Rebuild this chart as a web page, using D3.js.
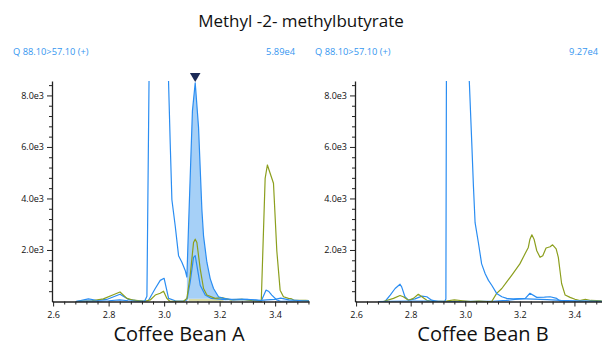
<!DOCTYPE html>
<html>
<head>
<meta charset="utf-8">
<script src="https://cdn.jsdelivr.net/npm/d3@7"></script>
<style>
  body { margin: 0; background: #fff; }
  svg { display: block; font-family: "Open Sans", sans-serif; }
</style>
</head>
<body>
<svg id="chart" width="602" height="347"></svg>
<script>
const title = 'Methyl -2- methylbutyrate';
const transition = 'Q 88.10>57.10 (+)';
const samples = ['Coffee Bean A', 'Coffee Bean B'];
const maxLabels = ['5.89e4', '9.27e4'];
const xTicks = [2.6, 2.8, 3.0, 3.2, 3.4];
const yTicks = [2000, 4000, 6000, 8000];

// [retention time (min), intensity]
const beanA_quant = [[2.683,10],[2.72,20],[2.76,15],[2.80,30],[2.84,60],[2.87,30],[2.90,10],[2.93,15],[2.938,200],
  [2.946,9000],[2.96,30000],[2.975,58900],[2.995,40000],[3.010,15000],[3.016,8500],[3.022,6120],[3.028,3950],
  [3.040,2930],[3.052,1780],[3.064,1525],[3.076,1207],[3.082,950],[3.088,2930],[3.094,4850],[3.102,7400],
  [3.112,8490],[3.124,6760],[3.136,3570],[3.142,2550],[3.154,1525],[3.166,890],[3.178,505],[3.196,185],
  [3.214,120],[3.25,60],[3.30,80],[3.35,40],[3.37,60],[3.40,80],[3.42,130],[3.45,60],[3.50,30],[3.523,20]];
const beanA_qual1 = [[2.683,0],[2.727,100],[2.76,40],[2.793,80],[2.841,280],[2.872,80],[2.91,20],[2.943,30],
  [2.968,505],[2.986,820],[3.0,900],[3.004,700],[3.016,120],[3.04,30],[3.07,20],[3.082,60],[3.094,760],
  [3.106,1715],[3.112,1780],[3.118,1400],[3.130,630],[3.148,250],[3.17,120],[3.22,70],[3.28,90],[3.33,50],
  [3.35,20],[3.367,440],[3.376,400],[3.388,250],[3.406,60],[3.42,10],[3.47,20],[3.523,30]];
const beanA_qual2 = [[2.683,0],[2.74,30],[2.781,100],[2.817,260],[2.841,370],[2.866,120],[2.89,50],[2.93,10],
  [2.95,60],[2.968,250],[2.986,320],[2.998,400],[3.010,120],[3.02,10],[3.07,10],[3.082,120],[3.094,1015],
  [3.106,2290],[3.112,2420],[3.118,2290],[3.130,1270],[3.142,505],[3.154,250],[3.184,120],[3.208,150],
  [3.24,60],[3.28,80],[3.32,30],[3.35,10],[3.364,4780],[3.372,5300],[3.394,4590],[3.406,1970],[3.418,440],
  [3.430,185],[3.448,120],[3.46,100],[3.47,40],[3.51,40],[3.523,30]];

const beanB_quant = [[2.682,0],[2.72,10],[2.80,20],[2.88,15],[2.925,10],[2.929,100],[2.931,9000],[2.95,40000],
  [2.97,92700],[2.99,50000],[3.012,9000],[3.015,8500],[3.024,6120],[3.030,4460],[3.036,3060],[3.048,2290],
  [3.060,1460],[3.073,1080],[3.085,820],[3.097,630],[3.115,315],[3.134,185],[3.152,120],[3.176,100],
  [3.20,110],[3.25,90],[3.30,70],[3.35,40],[3.40,30],[3.45,20],[3.50,10]];
const beanB_qual1 = [[2.70,0],[2.706,0],[2.725,250],[2.743,505],[2.761,670],[2.767,570],[2.779,185],[2.792,50],
  [2.816,100],[2.841,210],[2.859,185],[2.877,50],[2.90,0],[2.95,0],[3.0,10],[3.10,10],[3.15,40],[3.20,100],
  [3.22,120],[3.237,320],[3.262,160],[3.29,170],[3.311,185],[3.335,120],[3.347,20],[3.40,10],[3.50,10]];
const beanB_qual2 = [[2.70,0],[2.737,120],[2.761,235],[2.773,185],[2.792,50],[2.810,120],[2.828,280],[2.841,185],
  [2.859,50],[2.88,0],[2.93,20],[2.96,60],[2.99,30],[3.02,0],[3.05,20],[3.08,0],[3.097,0],[3.115,315],
  [3.134,505],[3.152,760],[3.170,1015],[3.200,1460],[3.219,1850],[3.231,2100],[3.237,2420],[3.244,2590],
  [3.252,2420],[3.262,1970],[3.274,1715],[3.284,1780],[3.296,2075],[3.311,2125],[3.320,2200],[3.333,2040],
  [3.341,1715],[3.347,1205],[3.353,700],[3.366,250],[3.384,160],[3.402,85],[3.42,40],[3.44,80],[3.46,40],[3.50,30]];

// integrated peak in bean A
const peakA = { start: 3.082, end: 3.214, apex: 3.112, baseline: 110 };

const blue = '#2a8df2';
const green = '#8c9f1e';

const svg = d3.select('#chart');

svg.append('text')
  .attr('x', 301).attr('y', 27)
  .attr('text-anchor', 'middle')
  .attr('font-size', 17)
  .attr('fill', '#111')
  .text(title);

const panels = [
  { name: samples[0], max: maxLabels[0], left: 52, right: 309, domain: [2.596, 3.522],
    traces: [beanA_qual1, beanA_qual2, beanA_quant], colors: [blue, green, blue],
    header: [13, 295], label: 179, peak: peakA },
  { name: samples[1], max: maxLabels[1], left: 355, right: 602, domain: [2.596, 3.501],
    traces: [beanB_qual1, beanB_qual2, beanB_quant], colors: [blue, green, blue],
    header: [315, 598], label: 483, peak: null }
];

const plotTop = 81, plotBottom = 301.5;
const y = d3.scaleLinear().domain([0, 8560]).range([plotBottom, plotTop]);

panels.forEach((p, i) => {
  const x = d3.scaleLinear().domain(p.domain).range([p.left, p.right]);
  const g = svg.append('g');

  // header line
  g.append('text').attr('x', p.header[0]).attr('y', 55)
    .attr('font-size', 9.3).attr('fill', '#3596f0').text(transition);
  g.append('text').attr('x', p.header[1]).attr('y', 55).attr('text-anchor', 'end')
    .attr('font-size', 9.3).attr('fill', '#3596f0').text(p.max);

  const clipId = 'clip' + i;
  svg.append('clipPath').attr('id', clipId)
    .append('rect').attr('x', p.left).attr('y', plotTop)
    .attr('width', p.right - p.left).attr('height', plotBottom - plotTop + 1);

  const plot = g.append('g').attr('clip-path', `url(#${clipId})`);

  if (p.peak) {
    const pk = p.peak;
    // baseline strip under the integration
    plot.append('path')
      .datum([[pk.start + 0.006, pk.baseline], [pk.end, pk.baseline]])
      .attr('fill', '#d9dba6')
      .attr('d', d3.area().x(d => x(d[0])).y0(y(0)).y1(d => y(d[1])));
    const inPeak = p.traces[2].filter(d => d[0] >= pk.start && d[0] <= pk.end);
    plot.append('path')
      .datum(inPeak)
      .attr('fill', '#a6d0f7')
      .attr('d', d3.area().x(d => x(d[0])).y0(y(pk.baseline)).y1(d => y(d[1])));
  }

  const line = d3.line().x(d => x(d[0])).y(d => y(d[1]));
  p.traces.forEach((t, k) => {
    plot.append('path').datum(t)
      .attr('fill', 'none')
      .attr('stroke', p.colors[k])
      .attr('stroke-width', 1.2)
      .attr('stroke-linejoin', 'round')
      .attr('d', line);
  });

  // x axis
  const xMinor = d3.range(2.6, p.domain[1] + 0.001, 0.04).filter(v => Math.abs(v * 5 - Math.round(v * 5)) > 0.01);
  g.append('g').attr('transform', `translate(0,${plotBottom})`)
    .call(d3.axisBottom(x).tickValues(xMinor).tickSize(3).tickFormat(''))
    .call(a => a.select('.domain').remove())
    .selectAll('line').attr('stroke', '#222');
  const xa = g.append('g').attr('transform', `translate(0,${plotBottom})`)
    .call(d3.axisBottom(x).tickValues(xTicks).tickSize(5).tickSizeOuter(0).tickFormat(d3.format('.1f')));
  xa.select('.domain').attr('stroke', '#222').attr('stroke-width', 1.3);
  xa.selectAll('line').attr('stroke', '#222');
  xa.selectAll('text').attr('font-size', 9).attr('fill', '#111').attr('font-family', '"Open Sans", sans-serif')
    .attr('dy', '0.9em');

  // y axis
  const yMinor = d3.range(400, 8401, 400).filter(v => v % 2000 !== 0);
  g.append('g').attr('transform', `translate(${p.left},0)`)
    .call(d3.axisLeft(y).tickValues(yMinor).tickSize(3).tickFormat(''))
    .call(a => a.select('.domain').remove())
    .selectAll('line').attr('stroke', '#222');
  const ya = g.append('g').attr('transform', `translate(${p.left},0)`)
    .call(d3.axisLeft(y).tickValues(yTicks).tickSize(5).tickSizeOuter(0).tickFormat(d => (d / 1000).toFixed(1) + 'e3'));
  ya.select('.domain').attr('stroke', '#222').attr('stroke-width', 1.3);
  ya.selectAll('line').attr('stroke', '#222');
  ya.selectAll('text').attr('font-size', 9).attr('fill', '#111').attr('font-family', '"Open Sans", sans-serif');

  if (p.peak) {
    g.append('path')
      .attr('d', d3.symbol(d3.symbolTriangle, 48))
      .attr('transform', `translate(${x(p.peak.apex)},${plotTop - 5}) rotate(180)`)
      .attr('fill', '#1b2a57');
  }

  g.append('text').attr('x', p.label).attr('y', 341)
    .attr('text-anchor', 'middle').attr('font-size', 20).attr('fill', '#111')
    .text(p.name);
});
</script>
</body>
</html>
